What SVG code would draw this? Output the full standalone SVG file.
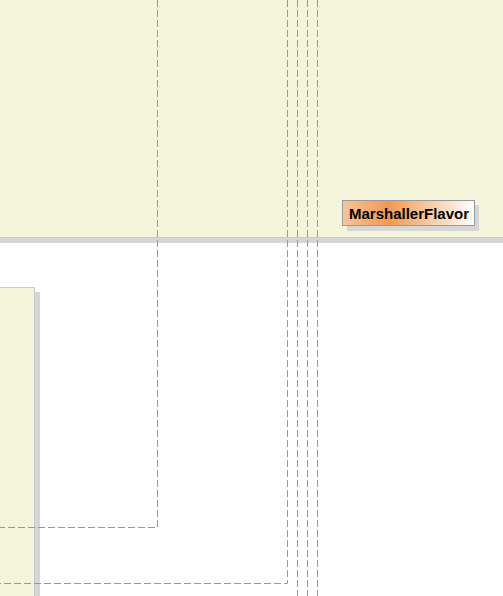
<svg xmlns="http://www.w3.org/2000/svg" width="503" height="596" viewBox="0 0 503 596">
<style>
.panel{fill:#f5f5dc;stroke:#c4c8d8;stroke-width:1}
.shadow{fill:#d6d6d6}
.conn{fill:none;stroke:#999999;stroke-width:1;stroke-dasharray:7,3}
.label{font-family:"Liberation Sans",Arial,sans-serif;font-size:15px;font-weight:bold;fill:#000000}
</style>
<defs>
<linearGradient id="orange" x1="0" y1="0" x2="1" y2="0">
<stop offset="0" stop-color="#f8c49a"/>
<stop offset="0.35" stop-color="#f09a52"/>
<stop offset="1" stop-color="#ffffff"/>
</linearGradient>
</defs>
<rect x="0" y="0" width="503" height="596" fill="#ffffff"/>
<g id="package-top">
<rect class="shadow" x="0" y="238" width="503" height="5"/>
<rect class="panel" x="-1" y="-1" width="505" height="238.5"/>
</g>
<g id="package-left">
<rect class="shadow" x="35" y="292" width="5" height="310"/>
<rect class="panel" x="-1" y="287.5" width="35.5" height="320"/>
</g>
<g id="node-MarshallerFlavor">
<rect class="shadow" x="347" y="205" width="132" height="26"/>
<rect x="342.5" y="200.5" width="132" height="25" fill="url(#orange)" stroke="#999999" stroke-width="1"/>
<text class="label" x="349" y="219">MarshallerFlavor</text>
</g>
<g id="connectors">
<path class="conn" d="M157.5,0 V527.5 H0"/>
<path class="conn" d="M287.5,0 V583.5 H0"/>
<path class="conn" d="M297.5,0 V596"/>
<path class="conn" d="M307.5,0 V596"/>
<path class="conn" d="M317.5,0 V596"/>
</g>
</svg>
